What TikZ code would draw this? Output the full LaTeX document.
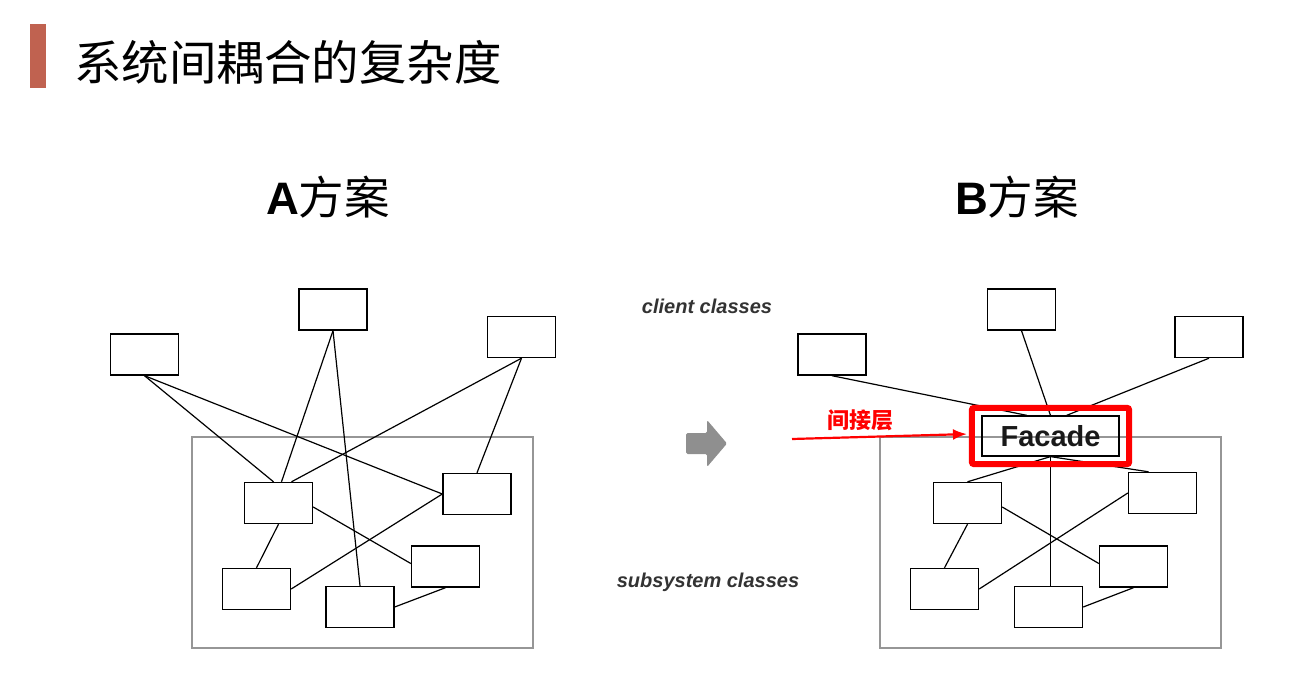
\documentclass[tikz,border=0pt]{standalone}
\usepackage{fontspec}
\setmainfont{Liberation Sans}
\newfontfamily\cjk{Noto Sans CJK SC}
\usetikzlibrary{positioning}
\usetikzlibrary{arrows.meta}
\usetikzlibrary{fit}
\definecolor{barred}{RGB}{192,98,80}
\definecolor{framegray}{RGB}{150,150,150}
\definecolor{arrowgray}{RGB}{143,143,143}

\begin{document}
\begin{tikzpicture}[x=1pt,y=-1pt,
	cls/.style={draw, line width=1.4pt, minimum width=68pt, minimum height=41pt, inner sep=0pt},
	link/.style={line width=1.2pt},
	system/.style={draw=framegray, line width=1.3pt},
	classlabel/.style={font=\fontsize{20}{24}\selectfont\bfseries\itshape, text=black!80},
	heading/.style={font=\fontsize{45.5}{48}\selectfont\bfseries, inner sep=0pt}]
	\useasboundingbox (0,0) rectangle (1295,676);
	% Title %
	\fill [barred] (30,24) rectangle (46,88);
	\node [anchor=west, inner sep=0pt] (title) at (74,62) {\fontsize{47.5}{50}\selectfont\cjk 系统间耦合的复杂度};
	\node [heading] (schemeA) at (328,197) {A{\mdseries\cjk 方案}};
	\node [heading] (schemeB) at (1017,197) {B{\mdseries\cjk 方案}};
	% Scheme A %
	\draw [system] (192,437) rectangle (533,648);
	\node [cls] (atl) at (144.5,354.5) {};
	\node [cls] (atop) at (333,309.5) {};
	\node [cls] (atr) at (521.5,337) {};
	\node [cls] (as1) at (278.5,503) {};
	\node [cls] (as2) at (477,494) {};
	\node [cls] (as3) at (445.5,566.5) {};
	\node [cls] (as4) at (256.5,589) {};
	\node [cls] (as5) at (360,607) {};
	\draw [link] (atl.south) -- ([xshift=-5pt]as1.north);
	\draw [link] (atl.south) -- (as2.west);
	\draw [link] (atop.south) -- ([xshift=3pt]as1.north);
	\draw [link] (atop.south) -- (as5.north);
	\draw [link] (atr.south) -- ([xshift=13pt]as1.north);
	\draw [link] (atr.south) -- (as2.north);
	\draw [link] ([yshift=-4pt]as1.east) -- ([yshift=3pt]as3.west);
	\draw [link] (as1.south) -- (as4.north);
	\draw [link] (as2.west) -- (as4.east);
	\draw [link] (as3.south) -- (as5.east);
	% Middle %
	\node [classlabel] (client) at (707,306) {client classes};
	\node [classlabel] (subsys) at (708,582) {subsystem classes};
	\fill [arrowgray, rounded corners=1.5pt] (686,433) -- (707,433) -- (707,420) -- (727,443.5) -- (707,467) -- (707,454) -- (686,454) -- cycle;
	% Scheme B %
	\draw [system] (880,437) rectangle (1221,648);
	\node [cls] (btl) at (832,354.5) {};
	\node [cls] (btop) at (1021.5,309.5) {};
	\node [cls] (btr) at (1209,337) {};
	\node [draw, line width=1.2pt, minimum width=137pt, minimum height=40pt, font=\fontsize{29}{30}\selectfont\bfseries, text=black!90] (fac) at (1050.5,436) {Facade};
	\node [cls] (bs1) at (967.5,503) {};
	\node [cls] (bs2) at (1162.5,493) {};
	\node [cls] (bs3) at (1133.5,566.5) {};
	\node [cls] (bs4) at (944.5,589) {};
	\node [cls] (bs5) at (1048.5,607) {};
	\draw [link] (btl.south) -- ([xshift=-23.5pt]fac.north);
	\draw [link] (btop.south) -- (fac.north);
	\draw [link] (btr.south) -- ([xshift=16pt]fac.north);
	\draw [link] (fac.south) -- (bs1.north);
	\draw [link] (fac.south) -- ([xshift=-14pt]bs2.north);
	\draw [link] (fac.south) -- (fac.south |- bs5.north);
	\draw [link] ([yshift=-4pt]bs1.east) -- ([yshift=3pt]bs3.west);
	\draw [link] (bs1.south) -- (bs4.north);
	\draw [link] (bs2.west) -- (bs4.east);
	\draw [link] (bs3.south) -- (bs5.east);
	% Indirection Layer %
	\node [draw=red, line width=6pt, rounded corners=2pt, fit=(fac), inner xsep=9.5pt, inner ysep=7.5pt] (frame) {};
	\coordinate (tail) at (792,439);
	\draw [red, line width=2.2pt, -{Latex[length=14pt,width=11pt]}, shorten >=2pt] (tail) -- ([yshift=2pt]frame.west);
	\node [text=red, font=\fontsize{22}{24}\selectfont\cjk\bfseries] (indirect) at (860,420) {间接层};
\end{tikzpicture}
\end{document}
